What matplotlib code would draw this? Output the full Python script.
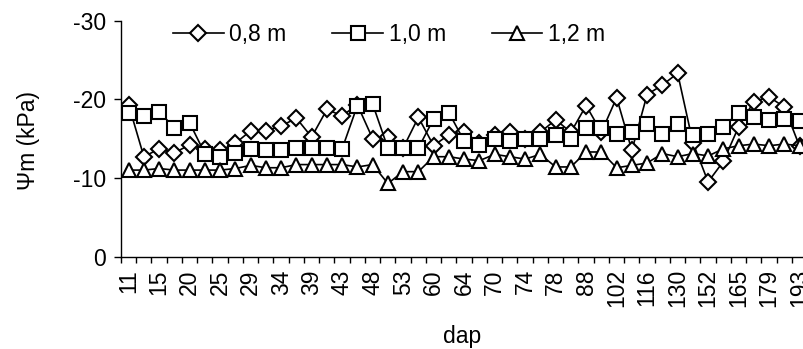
import matplotlib
matplotlib.use("Agg")
import matplotlib.pyplot as plt
import numpy as np

plt.rcParams['font.family'] = ['Liberation Sans', 'DejaVu Sans']
plt.rcParams['axes.unicode_minus'] = False

days = [11, 13, 15, 18, 20, 22, 25, 27, 29, 32, 34, 36, 39, 41, 43, 46, 48, 50, 53, 57,
        60, 62, 64, 67, 70, 72, 74, 76, 78, 81, 88, 95, 102, 109, 116, 123, 130, 137,
        152, 158, 165, 172, 179, 186, 193]

psi_08 = [-19.3, -12.7, -13.7, -13.2, -14.2, -13.7, -13.5, -14.4, -16.0, -16.0,
          -16.6, -17.6, -15.2, -18.7, -17.9, -19.3, -15.0, -15.2, -13.8, -17.7,
          -14.1, -15.5, -15.8, -14.5, -15.5, -15.8, -15.0, -15.8, -17.4, -15.8,
          -19.2, -15.8, -20.2, -13.5, -20.6, -21.8, -23.3, -14.5, -9.5, -12.1,
          -16.5, -19.7, -20.3, -19.0, -14.0]

psi_10 = [-18.3, -17.9, -18.4, -16.4, -17.0, -13.1, -12.7, -13.2, -13.7, -13.5,
          -13.5, -13.8, -13.8, -13.8, -13.7, -19.2, -19.4, -13.8, -13.8, -13.8,
          -17.5, -18.3, -14.7, -14.2, -14.9, -14.7, -14.9, -15.0, -15.4, -15.0,
          -16.4, -16.4, -15.6, -15.9, -16.8, -15.6, -16.8, -15.4, -15.6, -16.5,
          -18.3, -17.8, -17.3, -17.5, -17.2]

psi_12 = [-11.0, -11.0, -11.2, -11.0, -11.0, -11.0, -11.0, -11.2, -11.6, -11.3,
          -11.3, -11.7, -11.7, -11.7, -11.7, -11.4, -11.7, -9.3, -10.8, -10.8,
          -12.7, -12.7, -12.4, -12.2, -13.0, -12.7, -12.4, -13.0, -11.4, -11.4,
          -13.3, -13.3, -11.3, -11.6, -11.9, -13.1, -12.7, -13.1, -12.8, -13.7,
          -14.1, -14.3, -14.1, -14.3, -14.1]

series_labels = ['0,8 m', '1,0 m', '1,2 m']
y_ticks = [0, -10, -20, -30]

FS = 16.5

W, H = 804, 349
fig = plt.figure(figsize=(W / 100, H / 100), dpi=100)
left, right, top, bottom = 121, 807.25, 20.5, 256.7
ax = fig.add_axes([left / W, 1 - bottom / H, (right - left) / W, (bottom - top) / H])

x = np.arange(len(days))
common = dict(color='black', lw=1.2, mfc='white', mec='black', mew=1.5)
ax.plot(x, psi_08, marker='D', ms=7.8, label=series_labels[0], zorder=3, **common)
ax.plot(x, psi_10, marker='s', ms=10.5, label=series_labels[1], zorder=4, **common)
ax.plot(x, psi_12, marker='^', ms=10.5, label=series_labels[2], zorder=5, **common)

ax.set_xlim(-0.5, len(days) - 0.5)
ax.set_ylim(0, -30)
ax.set_yticks(y_ticks)
ax.set_yticklabels([str(v) for v in y_ticks])

ax.set_xticks(x[::2])
ax.set_xticklabels([str(d) for d in days[::2]], rotation=90, ha='center', va='top')
ax.set_xticks(np.arange(-0.5, len(days), 1), minor=True)
ax.tick_params(axis='x', which='major', length=0, pad=9, labelsize=FS)
ax.tick_params(axis='x', which='minor', length=4, width=1, direction='out')
ax.tick_params(axis='y', length=5, width=1, direction='out', pad=6, labelsize=FS)

for s in ['top', 'right']:
    ax.spines[s].set_visible(False)
for s in ['left', 'bottom']:
    ax.spines[s].set_linewidth(1.0)

fig.text(29 / W, 1 - 140 / H, 'Ψm (kPa)', rotation=90, ha='center', va='center', fontsize=FS)
fig.text(462 / W, 1 - 336 / H, 'dap', ha='center', va='center', fontsize=FS)

fig.legend(loc='center', bbox_to_anchor=(389 / W, 1 - 35 / H), ncol=3, frameon=False,
           fontsize=FS, handlelength=2.2, handletextpad=0.25, columnspacing=2.0,
           borderpad=0, borderaxespad=0)

fig.savefig('out.png', dpi=100)
